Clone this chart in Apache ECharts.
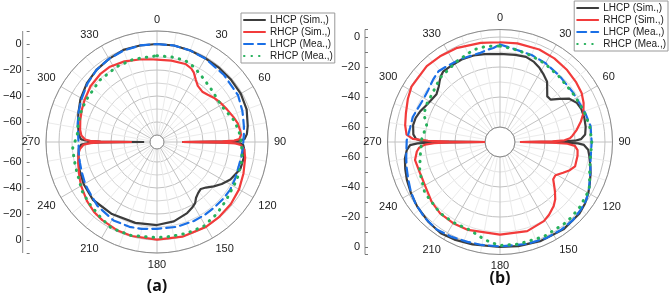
<!DOCTYPE html>
<html>
<head>
<meta charset="utf-8">
<script src="https://cdn.jsdelivr.net/npm/echarts@6/dist/echarts.min.js"></script>
<style>
  html, body { margin: 0; padding: 0; background: #fff; }
  #chart { width: 669px; height: 296px; }
</style>
</head>
<body>
<div id="chart"></div>
<script>
// angle ticks (deg, 0 at top, clockwise)
const angleTicks = [0, 30, 60, 90, 120, 150, 180, 210, 240, 270, 300, 330];
const legendNames = ['LHCP (Sim.,)', 'RHCP (Sim.,)', 'LHCP (Mea.,)', 'RHCP (Mea.,)'];

// ---- (a) ----
const aLhcpSimAng = [0,10,20,30,40,50,60,70,80,85,88,89,89.5,90,90.5,91,92,95,100,108,117,123,128,133,137,141,145,148,152,157,168,180,195,212,228,240,250,260,265,268,269,269.5,270,270.5,271,272,275,283,290,299,310,320,330,340,350,360];
const aLhcpSimDb  = [0,0,-0.5,-1,-1,-1,-1,-2,-4.5,-6,-8,-11,-19,-56,-19,-11,-9,-8,-7.5,-8,-12,-16,-20,-24,-26,-25,-23,-20,-18,-16,-13,-11.5,-11,-10,-9,-10.3,-12,-14,-15,-17,-22,-32,-65.5,-32,-22,-17,-15,-13,-11,-8,-5,-3,-1.5,0,0,0];

const aRhcpSimAng = [0,10,20,25,28,32,36,42,47,52,58,65,72,77,82,85,88,89,89.5,90,90.5,91,92,95,100,110,120,130,140,150,165,180,195,204,215,222,230,240,246,255,262,265,268,269,269.5,270,270.5,271,272,275,279,286,293,300,310,320,328,338,348,355,360];
const aRhcpSimDb  = [-12,-11.8,-11.5,-13,-15,-19,-22,-23.3,-22,-20,-18,-16,-13.5,-11.6,-10.8,-10.5,-12,-16,-25,-56,-25,-15,-11,-8,-6.5,-4.6,-2.5,-1.2,-0.5,0,0,-0.3,-0.5,-0.8,-2,-3,-5,-8,-10,-12.6,-14.5,-16,-19,-24,-32,-56,-32,-24,-20,-17,-15.5,-14,-12.5,-11,-8.6,-7.3,-7.1,-8.5,-10.5,-11.5,-12];

const aLhcpMeaAng = [0,10,20,30,45,60,70,75,80,85,90,95,100,107,115,123,131,139,147,155,167,180,190,198,209,223,235,240,248,255,262,270,275,281,290,299,310,320,330,340,350,360];
const aLhcpMeaDb  = [0,0,-0.5,-1.2,-2.5,-3.4,-5.5,-6.7,-7.5,-8.3,-9,-9.3,-9.5,-9.8,-9,-8.2,-8.3,-8.5,-8.4,-8.3,-8.4,-8.6,-7.5,-6.8,-6.4,-8.2,-10.8,-11.5,-13,-14,-14.6,-15,-14.5,-13.2,-11,-8.7,-5.5,-3,-1.5,-0.5,0,0];

const aRhcpMeaAng = [0,10,19,26,33,40,45,52,61,68,74,80,86,90,95,102,115,130,140,151,162,172,180,196,208,217,228,237,243,250,258,266,275,280,290,300,317,332,344,360];
const aRhcpMeaDb  = [-9,-9,-9,-11,-13.8,-16,-17,-18.2,-18.5,-16.5,-14,-12.5,-11,-10.8,-9.8,-8.5,-7.4,-5.9,-3.5,-1.3,-1.5,-2,-1.8,-0.7,-0.5,-3,-5,-6.5,-8.5,-9.6,-10.2,-10.4,-13.8,-13.5,-12.5,-12,-10.6,-9.7,-9.2,-9];

// ---- (b) ----
const bLhcpSimAng = [0,10,17,23,28,33,38,42,46,50,54,58,63,68,74,80,85,88,89,89.5,90,90.5,91,92,95,99,104,109,115,120,126,132,144,158,170,180,195,205,213,222,232,240,248,254,260,265,268,269,269.5,270,270.5,271,272,275,281,286,291,296,300,307,312,315,318,321,327,335,343,350,360];
const bLhcpSimDb  = [-11.3,-11,-10.7,-12,-14,-16.5,-19,-23,-26.2,-26,-21,-15.5,-12.5,-11.5,-11.5,-12,-13,-16,-20,-30,-56,-30,-18,-14,-11,-9.7,-8,-6.1,-4,-2,0,1.3,2,1.3,0.5,0,0.7,1.8,2.5,1.5,0,-1.5,-3,-4.3,-5.6,-7.6,-10,-15,-25,-60,-25,-17,-14,-12,-11,-11.5,-13,-15,-16,-17,-15,-13,-11,-9.7,-9.6,-9.3,-9.7,-10.5,-11.3];

const bRhcpSimAng = [0,10,23,33,43,52,59,65,71,76,81,85,87,88.5,89.3,90,90.7,91.5,93,96,100,108,112,116,121,125,129,132,136,140,146,151,163,180,200,210,220,229,237,249,258,263.5,266,268,269,269.6,270,270.4,271,272,274.5,280,287,295,302,316,325,335,349,360];
const bRhcpSimDb  = [-3.5,-3.2,-3,-3.5,-4.4,-5.5,-6.5,-8.5,-11.2,-14.5,-18.2,-21.5,-23.3,-27,-35,-56.7,-35,-25,-20,-18,-17.5,-17.4,-19.8,-23.2,-26.9,-26.7,-23.5,-20.7,-17,-14.3,-11.5,-9.7,-7.9,-8.2,-7.6,-7.5,-7.9,-9.5,-11.7,-12.8,-12.1,-14.2,-16,-20,-26,-36,-63.8,-36,-22,-12,-7.5,-5.8,-4.4,-2.2,-0.4,0.3,-0.3,-1,-2.7,-3.5];

const bLhcpMeaAng = [0,5,10,20,30,42,56,64,71,80,90,101,107,113,118,124,130,137,145,154,165,180,190,198,207,216,225,234,241,248,255,261,271,279,286,295,300,306,313,319,325,335,347,352,356,360];
const bLhcpMeaDb  = [-5,-6.5,-7.5,-8.3,-9.3,-10.7,-11.2,-11,-10,-8.7,-8.9,-8.5,-7,-5,-2.8,-0.7,0.3,1.2,1.3,1.1,0.3,-0.4,-0.3,0,1,2,1.2,-0.3,-2,-4,-5.5,-6.7,-7.8,-9.3,-9.5,-11.2,-11.5,-10.9,-9,-7.5,-8.3,-8.8,-9.2,-8,-7.2,-5];

const bRhcpMeaAng = [0,10,20,30,42,56,64,71,80,90,100,110,116,120,130,140,155,170,180,186,192,199,210,220,236,250,260,272,283,290,297,305,317,332,344,352,360];
const bRhcpMeaDb  = [-6,-7.5,-8.8,-9.8,-11.2,-11.6,-11.2,-10.4,-9.3,-8.8,-8.8,-6.5,-3.5,-2.5,-1.2,-0.5,-0.5,-0.8,-1,-3,-5.5,-8,-8,-8,-9.5,-13,-16,-17.8,-19.8,-16,-15,-14.6,-11.5,-9,-6,-5.5,-6];

const FONT = 'Liberation Sans';
const C_BLACK = '#3c3c3c', C_RED = '#f23b3b', C_BLUE = '#1a6fe6', C_GREEN = '#26b15c';

function zip(ang, db) {
  return ang.map((a, i) => [db[i], a]);
}

function makeSeries(name, polarIndex, ang, db, color, type, width) {
  return {
    name: name,
    type: 'line',
    coordinateSystem: 'polar',
    polarIndex: polarIndex,
    data: zip(ang, db),
    symbol: 'none',
    showSymbol: false,
    clip: false,
    lineStyle: { color: color, width: width, type: type, cap: 'round' },
    itemStyle: { color: color }
  };
}

function makeAngleAxis(polarIndex) {
  return {
    polarIndex: polarIndex,
    type: 'value',
    min: 0, max: 360, interval: 30,
    startAngle: 90, clockwise: true,
    axisLine: { lineStyle: { color: '#8c8c8c', width: 1 } },
    axisTick: { show: false },
    axisLabel: {
      margin: 6, color: '#222', fontSize: 11, fontFamily: FONT,
      formatter: v => (angleTicks.indexOf(v) >= 0 ? String(v) : '')
    },
    splitLine: { lineStyle: { color: '#c2c2c2', width: 1 } },
    minorTick: { show: false, splitNumber: 3 },
    minorSplitLine: { show: true, lineStyle: { color: '#ebebeb', width: 1 } }
  };
}

function makeRadiusAxis(polarIndex, min, max, colors) {
  return {
    polarIndex: polarIndex,
    type: 'value', min: min, max: max, interval: 10,
    axisLine: { show: false }, axisTick: { show: false }, axisLabel: { show: false },
    splitLine: { show: true, lineStyle: { color: colors, width: 1 } }
  };
}

// left linear dB scales (mirrored top/bottom)
function makeY(gridIndex, min, max, inverse) {
  return {
    gridIndex: gridIndex, type: 'value', min: min, max: max, interval: 10, inverse: inverse,
    axisLine: { show: false },
    axisTick: { show: true, inside: true, length: 3, lineStyle: { color: '#777' } },
    axisLabel: {
      margin: 5, color: '#222', fontSize: 11, fontFamily: FONT,
      formatter: v => (v % 20 === 0 && v <= 0 ? String(v).replace('-', '\u2212') : '')
    },
    splitLine: { show: false }
  };
}

const grids = [
  { left: 22.7, top: 31, width: 10, height: 104 },
  { left: 22.7, top: 149, width: 10, height: 104 },
  { left: 365, top: 29.5, width: 10, height: 97.5 },
  { left: 365, top: 157, width: 10, height: 97.5 }
];

function makeLegend(pos) {
  return Object.assign({
    orient: 'vertical',
    itemWidth: 21, itemHeight: 10, itemGap: 2,
    padding: [2, 2, 2, 2],
    borderColor: '#999', borderWidth: 1,
    itemStyle: { opacity: 0 },
    textStyle: { fontSize: 10, color: '#222', fontFamily: FONT },
    data: legendNames
  }, pos);
}

const chart = echarts.init(document.getElementById('chart'), null, { renderer: 'canvas' });

const option = {
  animation: false,
  backgroundColor: '#fff',
  polar: [
    { center: [157, 142], radius: [7, 111] },
    { center: [500, 142], radius: [15, 112.5] }
  ],
  angleAxis: [makeAngleAxis(0), makeAngleAxis(1)],
  radiusAxis: [
    makeRadiusAxis(0, -70, 10, ['#d6d6d6', '#c2c2c2']),
    makeRadiusAxis(1, -60, 5, ['#c2c2c2', '#e2e2e2'])
  ],
  grid: grids,
  xAxis: grids.map((g, i) => ({ gridIndex: i, type: 'value', show: false })),
  yAxis: [
    makeY(0, -70, 10, false),
    makeY(1, -70, 10, true),
    makeY(2, -60, 5, false),
    makeY(3, -60, 5, true)
  ],
  legend: [makeLegend({ left: 241, top: 13 }), makeLegend({ right: 1, top: 1 })],
  series: [
    makeSeries(legendNames[0], 0, aLhcpSimAng, aLhcpSimDb, C_BLACK, 'solid', 2.2),
    makeSeries(legendNames[1], 0, aRhcpSimAng, aRhcpSimDb, C_RED, 'solid', 2.2),
    makeSeries(legendNames[2], 0, aLhcpMeaAng, aLhcpMeaDb, C_BLUE, [9, 5], 2.2),
    makeSeries(legendNames[3], 0, aRhcpMeaAng, aRhcpMeaDb, C_GREEN, [0.5, 7], 3),
    makeSeries(legendNames[0], 1, bLhcpSimAng, bLhcpSimDb, C_BLACK, 'solid', 2.2),
    makeSeries(legendNames[1], 1, bRhcpSimAng, bRhcpSimDb, C_RED, 'solid', 2.2),
    makeSeries(legendNames[2], 1, bLhcpMeaAng, bLhcpMeaDb, C_BLUE, [9, 5], 2.2),
    makeSeries(legendNames[3], 1, bRhcpMeaAng, bRhcpMeaDb, C_GREEN, [0.5, 7], 3)
  ],
  graphic: [
    { type: 'line', shape: { x1: 22.7, y1: 31, x2: 22.7, y2: 253 }, style: { stroke: '#888', lineWidth: 1 } },
    { type: 'line', shape: { x1: 365, y1: 29.5, x2: 365, y2: 254.5 }, style: { stroke: '#888', lineWidth: 1 } },
    { type: 'text', x: 157, y: 286, style: { text: '(a)', font: 'bold 16px "Open Sans"', fill: '#111', textAlign: 'center', textVerticalAlign: 'middle' } },
    { type: 'text', x: 500, y: 278, style: { text: '(b)', font: 'bold 16px "Open Sans"', fill: '#111', textAlign: 'center', textVerticalAlign: 'middle' } }
  ]
};

chart.setOption(option);
</script>
</body>
</html>
